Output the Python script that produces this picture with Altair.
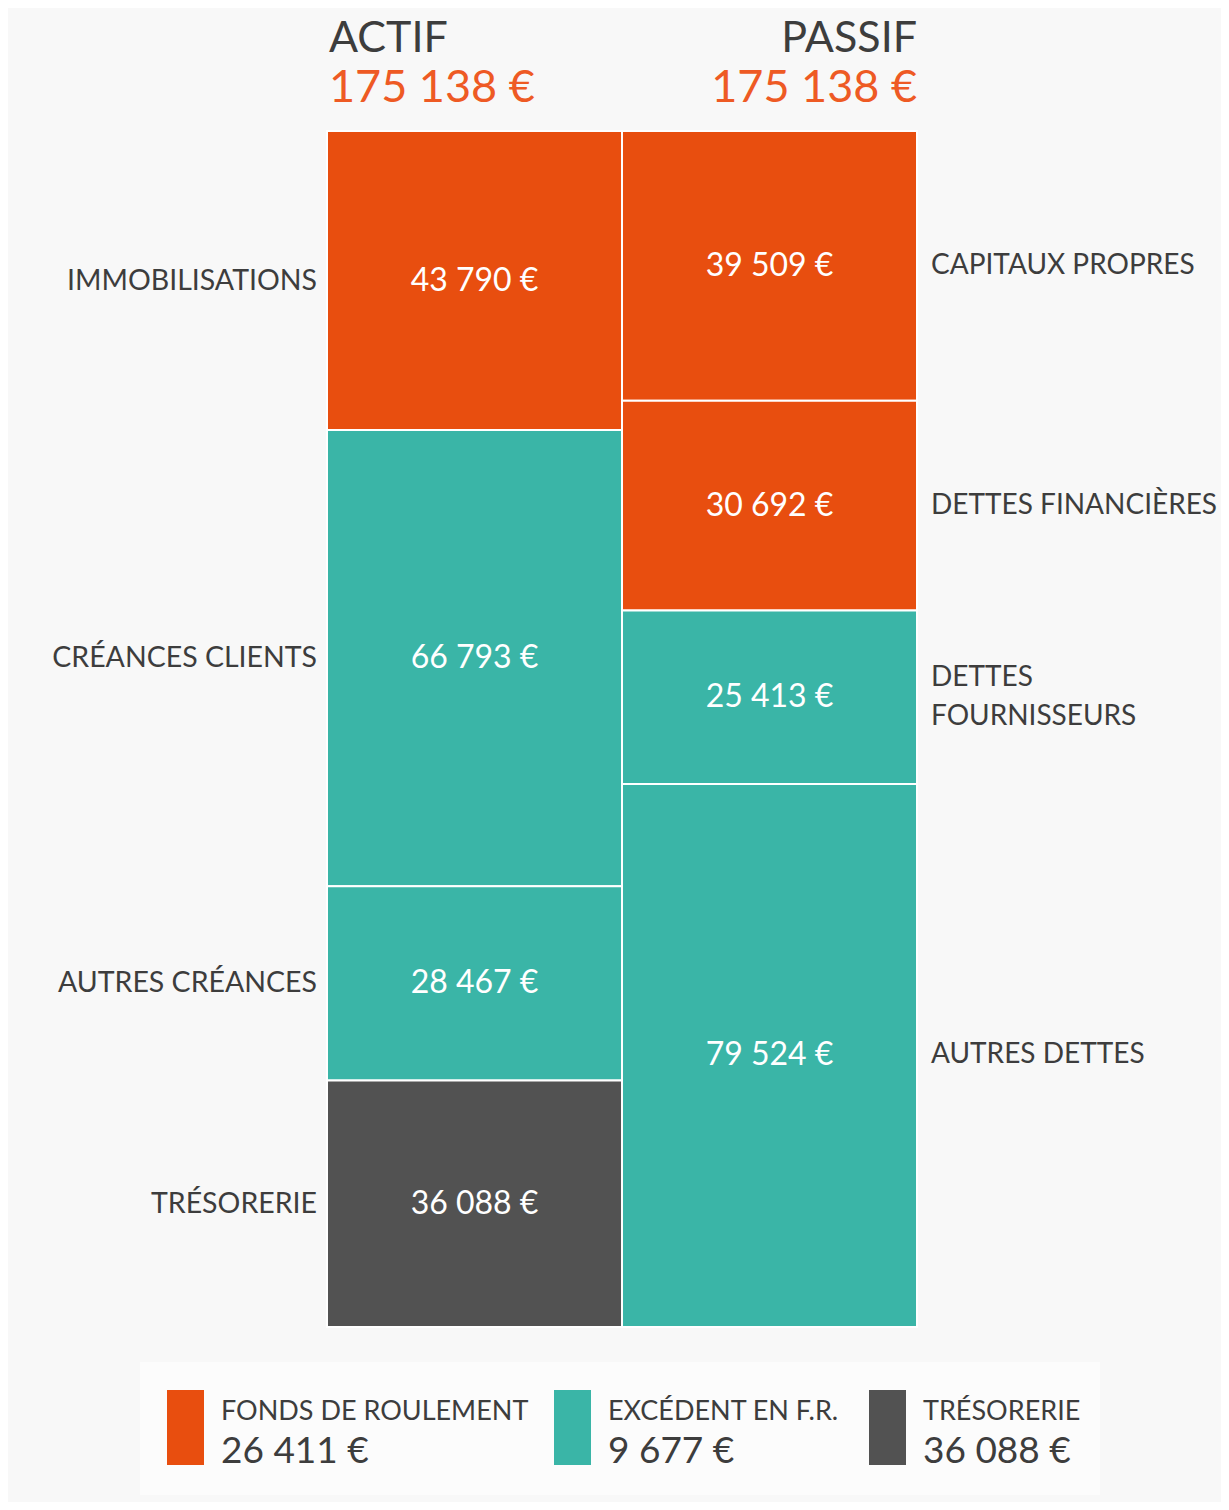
import altair as alt
import pandas as pd

# ---------------- data ----------------
sides = ["ACTIF", "ACTIF", "ACTIF", "ACTIF", "PASSIF", "PASSIF", "PASSIF", "PASSIF"]
items = ["IMMOBILISATIONS", "CRÉANCES CLIENTS", "AUTRES CRÉANCES", "TRÉSORERIE",
         "CAPITAUX PROPRES", "DETTES FINANCIÈRES", "DETTES\nFOURNISSEURS", "AUTRES DETTES"]
values = [43790, 66793, 28467, 36088, 39509, 30692, 25413, 79524]
groups = ["FR", "EXC", "EXC", "TRE", "FR", "FR", "EXC", "EXC"]

legend_names = ["FONDS DE ROULEMENT", "EXCÉDENT EN F.R.", "TRÉSORERIE"]
legend_groups = ["FR", "EXC", "TRE"]
legend_values = [26411, 9677, 36088]

# ---------------- style ----------------
ORANGE = "#E84E0F"
TEAL = "#3AB5A7"
DARK = "#525252"
TXT = "#3d3d3d"
TITLE_ORANGE = "#EE5A24"
FONT = "Lato"
BG = "#f8f8f8"
legend_left = [-160, 227, 542]   # swatch left edges (px, relative to plot)


def fr(v):
    return f"{v:,}".replace(",", " ") + " €"


df = pd.DataFrame({"side": sides, "item": items, "value": values, "group": groups})
df["end"] = df.groupby("side")["value"].cumsum()
df["start"] = df["end"] - df["value"]
df["mid"] = (df["start"] + df["end"]) / 2
df["label"] = df["value"].map(fr)
total = int(df[df.side == "ACTIF"]["value"].sum())

tot = df.groupby("side", as_index=False)["value"].sum()
tot["label"] = tot["value"].map(fr)

leg = pd.DataFrame({"name": legend_names, "group": legend_groups, "value": legend_values})
leg["label"] = leg["value"].map(fr)

xs = alt.Scale(domain=["ACTIF", "PASSIF"], paddingInner=0, paddingOuter=0)
ys = alt.Scale(domain=[0, total], reverse=True, nice=False, zero=False)
cs = alt.Scale(domain=["FR", "EXC", "TRE"], range=[ORANGE, TEAL, DARK])

base = alt.Chart(df)

bars = base.mark_rect(stroke="white", strokeWidth=2).encode(
    x=alt.X("side:N", scale=xs, axis=None),
    y=alt.Y("start:Q", scale=ys, axis=None),
    y2="end:Q",
    color=alt.Color("group:N", scale=cs, legend=None),
)

inner = base.mark_text(color="white", fontSize=32, font=FONT, baseline="middle").encode(
    x=alt.X("side:N", scale=xs, axis=None),
    y=alt.Y("mid:Q", scale=ys, axis=None),
    text="label:N",
)

left_lab = base.transform_filter(alt.datum.side == "ACTIF").mark_text(
    color=TXT, fontSize=28.5, font=FONT, align="right", baseline="middle", dx=-10
).encode(
    x=alt.X("side:N", scale=xs, axis=None, bandPosition=0),
    y=alt.Y("mid:Q", scale=ys, axis=None),
    text="item:N",
)

is_multi = "indexof(datum.item, '\\n') >= 0"
right_single = base.transform_filter(alt.datum.side == "PASSIF").transform_filter(
    "indexof(datum.item, '\\n') < 0"
).mark_text(
    color=TXT, fontSize=28, font=FONT, align="left", baseline="middle", dx=14
).encode(
    x=alt.X("side:N", scale=xs, axis=None, bandPosition=1),
    y=alt.Y("mid:Q", scale=ys, axis=None),
    text="item:N",
)
right_multi = base.transform_filter(alt.datum.side == "PASSIF").transform_filter(is_multi).mark_text(
    color=TXT, fontSize=28, font=FONT, align="left", baseline="middle", dx=14, dy=-19.5,
    lineBreak="\n", lineHeight=39
).encode(
    x=alt.X("side:N", scale=xs, axis=None, bandPosition=1),
    y=alt.Y("mid:Q", scale=ys, axis=None),
    text="item:N",
)

tbase = alt.Chart(tot)
title_a = tbase.transform_filter(alt.datum.side == "ACTIF").mark_text(
    color=TXT, fontSize=43, font=FONT, align="left", baseline="alphabetic", dx=2
).encode(x=alt.X("side:N", scale=xs, axis=None, bandPosition=0), y=alt.value(-79), text="side:N")
total_a = tbase.transform_filter(alt.datum.side == "ACTIF").mark_text(
    color=TITLE_ORANGE, fontSize=45, font=FONT, align="left", baseline="alphabetic", dx=2
).encode(x=alt.X("side:N", scale=xs, axis=None, bandPosition=0), y=alt.value(-29), text="label:N")
title_p = tbase.transform_filter(alt.datum.side == "PASSIF").mark_text(
    color=TXT, fontSize=43, font=FONT, align="right", baseline="alphabetic", dx=0
).encode(x=alt.X("side:N", scale=xs, axis=None, bandPosition=1), y=alt.value(-79), text="side:N")
total_p = tbase.transform_filter(alt.datum.side == "PASSIF").mark_text(
    color=TITLE_ORANGE, fontSize=45, font=FONT, align="right", baseline="alphabetic", dx=0
).encode(x=alt.X("side:N", scale=xs, axis=None, bandPosition=1), y=alt.value(-29), text="label:N")

main = alt.layer(bars, inner, left_lab, right_single, right_multi, title_a, total_a, title_p, total_p)

# ---------------- custom legend ----------------
box = alt.Chart(pd.DataFrame({"k": [0]})).mark_rect(color="#fcfcfc").encode(
    x=alt.value(-187), x2=alt.value(773), y=alt.value(1231), y2=alt.value(1364)
)
leg_layers = [box]
for name, x0 in zip(legend_names, legend_left):
    lb = alt.Chart(leg).transform_filter(alt.datum.name == name)
    leg_layers.append(lb.mark_rect().encode(
        x=alt.value(x0), x2=alt.value(x0 + 37), y=alt.value(1259), y2=alt.value(1334),
        color=alt.Color("group:N", scale=cs, legend=None),
    ))
    leg_layers.append(lb.mark_text(color=TXT, fontSize=27, font=FONT, align="left",
                                   baseline="alphabetic").encode(
        x=alt.value(x0 + 54), y=alt.value(1289), text="name:N"))
    leg_layers.append(lb.mark_text(color=TXT, fontSize=37, font=FONT, align="left",
                                   baseline="alphabetic").encode(
        x=alt.value(x0 + 54), y=alt.value(1332), text="label:N"))
legend = alt.layer(*leg_layers)

chart = alt.layer(main, legend).resolve_scale(x="independent", y="independent", color="shared").properties(
    width=590, height=1196,
    padding={"left": 319, "top": 123, "right": 304, "bottom": 175},
    autosize=alt.AutoSizeParams(type="none"),
    background=BG,
).configure_view(stroke=None)

chart.save("out.html", embed_options={"renderer": "svg", "actions": False})
